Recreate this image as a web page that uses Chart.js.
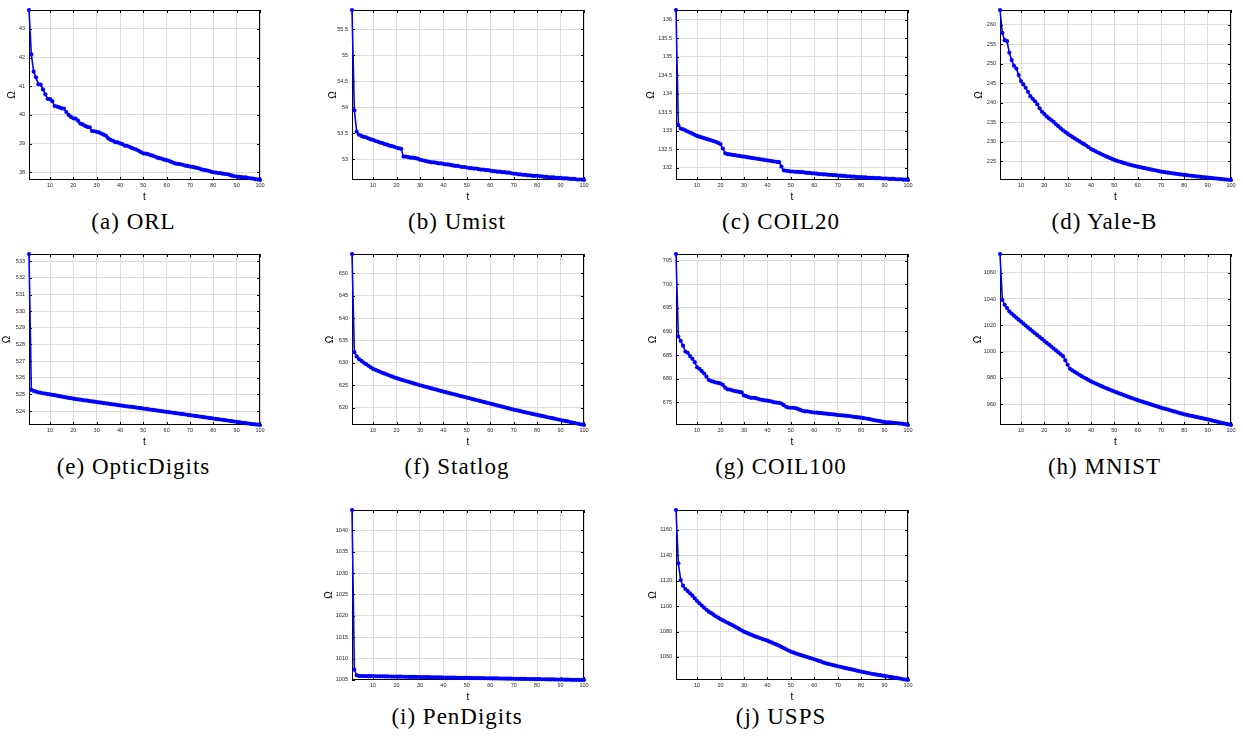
<!DOCTYPE html>
<html>
<head>
<meta charset="utf-8">
<script src="https://cdn.jsdelivr.net/npm/chart.js@4.4.0/dist/chart.umd.min.js"></script>
<style>
    body { margin: 0; background: #fff; }
    #fig { position: relative; width: 1243px; height: 738px; overflow: hidden; }
    #fig canvas { position: absolute; }
    .cap {
        position: absolute;
        width: 300px;
        text-align: center;
        font-family: "Liberation Serif", "DejaVu Serif", serif;
        font-size: 23px;
        letter-spacing: 1px;
        line-height: 26px;
        color: #000;
        white-space: nowrap;
    }
</style>
</head>
<body>
<div id="fig"></div>
<script>
// iteration index t = 1..100
const steps = Array.from({length: 100}, (_, i) => i + 1);
const xTicks = [10, 20, 30, 40, 50, 60, 70, 80, 90, 100];

const orlVals = [
    43.66, 42.11, 41.51, 41.31, 41.07, 41.06, 40.89, 40.72, 40.56, 40.55,
    40.48, 40.31, 40.29, 40.26, 40.23, 40.22, 40.10, 40.00, 39.93, 39.88,
    39.87, 39.80, 39.70, 39.67, 39.62, 39.58, 39.57, 39.44, 39.43, 39.41,
    39.39, 39.35, 39.31, 39.27, 39.18, 39.13, 39.10, 39.05, 39.04, 39.01,
    38.98, 38.93, 38.92, 38.89, 38.85, 38.82, 38.79, 38.75, 38.70, 38.66,
    38.65, 38.63, 38.60, 38.58, 38.55, 38.51, 38.49, 38.47, 38.44, 38.42,
    38.40, 38.36, 38.33, 38.30, 38.29, 38.28, 38.26, 38.23, 38.22, 38.20,
    38.19, 38.17, 38.15, 38.13, 38.10, 38.08, 38.07, 38.05, 38.02, 38.00,
    37.99, 37.97, 37.97, 37.95, 37.94, 37.93, 37.91, 37.88, 37.86, 37.85,
    37.84, 37.83, 37.82, 37.82, 37.80, 37.79, 37.78, 37.76, 37.75, 37.73
];
const orlTicks = [38, 39, 40, 41, 42, 43];

const umistVals = [
    55.87, 53.94, 53.53, 53.47, 53.45, 53.43, 53.42, 53.40, 53.38, 53.37,
    53.35, 53.34, 53.32, 53.31, 53.29, 53.28, 53.26, 53.25, 53.24, 53.22,
    53.21, 53.20, 53.05, 53.05, 53.04, 53.03, 53.03, 53.02, 53.01, 52.99,
    52.98, 52.97, 52.96, 52.95, 52.94, 52.94, 52.93, 52.92, 52.92, 52.91,
    52.90, 52.90, 52.89, 52.88, 52.87, 52.87, 52.86, 52.85, 52.85, 52.84,
    52.83, 52.83, 52.82, 52.82, 52.81, 52.80, 52.80, 52.79, 52.79, 52.78,
    52.77, 52.77, 52.76, 52.76, 52.75, 52.75, 52.74, 52.74, 52.73, 52.72,
    52.72, 52.71, 52.71, 52.70, 52.70, 52.69, 52.69, 52.68, 52.68, 52.68,
    52.67, 52.67, 52.66, 52.66, 52.65, 52.65, 52.65, 52.64, 52.64, 52.64,
    52.63, 52.63, 52.63, 52.62, 52.62, 52.62, 52.61, 52.61, 52.61, 52.60
];
const umistTicks = [53, 53.5, 54, 54.5, 55, 55.5];

const coil20Vals = [
    136.26, 133.15, 133.06, 133.04, 133.01, 132.98, 132.95, 132.92, 132.89, 132.86,
    132.84, 132.82, 132.80, 132.78, 132.76, 132.74, 132.72, 132.70, 132.67, 132.64,
    132.52, 132.39, 132.37, 132.36, 132.35, 132.34, 132.33, 132.32, 132.31, 132.30,
    132.29, 132.28, 132.27, 132.26, 132.25, 132.24, 132.23, 132.22, 132.21, 132.20,
    132.19, 132.18, 132.17, 132.16, 132.15, 132.03, 131.93, 131.92, 131.91, 131.90,
    131.90, 131.89, 131.89, 131.88, 131.88, 131.87, 131.86, 131.86, 131.85, 131.85,
    131.84, 131.83, 131.83, 131.82, 131.82, 131.81, 131.81, 131.80, 131.80, 131.79,
    131.79, 131.78, 131.78, 131.77, 131.77, 131.76, 131.76, 131.75, 131.75, 131.75,
    131.74, 131.74, 131.73, 131.73, 131.73, 131.72, 131.72, 131.72, 131.71, 131.71,
    131.71, 131.70, 131.70, 131.70, 131.69, 131.69, 131.69, 131.68, 131.68, 131.67
];
const coil20Ticks = [132, 132.5, 133, 133.5, 134, 134.5, 135, 135.5, 136];

const yaleVals = [
    263.80, 257.95, 256.07, 255.80, 252.83, 250.95, 249.50, 248.80, 247.10, 245.57,
    244.70, 243.86, 242.83, 241.70, 241.04, 240.40, 239.60, 238.57, 237.70, 237.10,
    236.50, 236.00, 235.58, 235.10, 234.50, 234.00, 233.45, 232.94, 232.50, 232.07,
    231.65, 231.25, 230.85, 230.50, 230.10, 229.75, 229.40, 229.05, 228.60, 228.15,
    227.85, 227.55, 227.25, 226.95, 226.68, 226.40, 226.12, 225.85, 225.60, 225.34,
    225.15, 224.95, 224.76, 224.58, 224.40, 224.23, 224.06, 223.90, 223.76, 223.63,
    223.49, 223.36, 223.23, 223.10, 222.98, 222.86, 222.75, 222.64, 222.50, 222.35,
    222.26, 222.17, 222.08, 221.99, 221.90, 221.82, 221.74, 221.66, 221.58, 221.50,
    221.43, 221.36, 221.29, 221.22, 221.15, 221.08, 221.01, 220.94, 220.87, 220.80,
    220.74, 220.68, 220.62, 220.56, 220.50, 220.44, 220.38, 220.32, 220.26, 220.20
];
const yaleTicks = [225, 230, 235, 240, 245, 250, 255, 260];

const opticVals = [
    533.44, 525.27, 525.21, 525.17, 525.13, 525.10, 525.07, 525.05, 525.02, 525.00,
    524.97, 524.95, 524.92, 524.89, 524.87, 524.84, 524.82, 524.79, 524.77, 524.74,
    524.72, 524.70, 524.68, 524.66, 524.64, 524.62, 524.60, 524.58, 524.56, 524.54,
    524.52, 524.50, 524.48, 524.46, 524.44, 524.42, 524.40, 524.38, 524.36, 524.34,
    524.32, 524.30, 524.28, 524.26, 524.25, 524.23, 524.21, 524.19, 524.17, 524.15,
    524.13, 524.11, 524.09, 524.07, 524.05, 524.03, 524.01, 523.99, 523.97, 523.95,
    523.93, 523.91, 523.89, 523.87, 523.85, 523.83, 523.81, 523.79, 523.77, 523.75,
    523.73, 523.71, 523.69, 523.67, 523.65, 523.63, 523.61, 523.59, 523.57, 523.55,
    523.53, 523.51, 523.49, 523.47, 523.45, 523.43, 523.41, 523.39, 523.37, 523.35,
    523.33, 523.31, 523.29, 523.27, 523.25, 523.23, 523.21, 523.20, 523.18, 523.16
];
const opticTicks = [524, 525, 526, 527, 528, 529, 530, 531, 532, 533];

const statlogVals = [
    654.30, 632.39, 631.42, 630.82, 630.45, 630.05, 629.70, 629.35, 629.00, 628.66,
    628.44, 628.22, 628.00, 627.78, 627.57, 627.37, 627.17, 626.96, 626.76, 626.57,
    626.41, 626.25, 626.09, 625.94, 625.78, 625.63, 625.47, 625.31, 625.16, 625.00,
    624.86, 624.72, 624.57, 624.43, 624.29, 624.15, 624.00, 623.86, 623.72, 623.58,
    623.45, 623.31, 623.18, 623.04, 622.91, 622.78, 622.64, 622.51, 622.37, 622.24,
    622.11, 621.97, 621.84, 621.70, 621.57, 621.44, 621.30, 621.17, 621.03, 620.90,
    620.76, 620.63, 620.49, 620.36, 620.22, 620.09, 619.95, 619.82, 619.68, 619.55,
    619.43, 619.31, 619.20, 619.07, 618.95, 618.84, 618.72, 618.60, 618.48, 618.36,
    618.25, 618.14, 618.03, 617.91, 617.80, 617.69, 617.58, 617.46, 617.35, 617.24,
    617.13, 617.02, 616.91, 616.79, 616.68, 616.57, 616.46, 616.34, 616.23, 616.12
];
const statlogTicks = [620, 625, 630, 635, 640, 645, 650];

const coil100Vals = [
    706.40, 688.93, 688.00, 687.00, 685.75, 685.50, 684.80, 684.20, 683.50, 682.43,
    682.10, 681.60, 681.10, 680.44, 679.73, 679.50, 679.38, 679.20, 679.10, 678.96,
    678.70, 678.10, 677.75, 677.70, 677.55, 677.40, 677.30, 677.20, 677.10, 676.46,
    676.30, 676.10, 675.95, 675.95, 675.90, 675.75, 675.60, 675.50, 675.40, 675.35,
    675.28, 675.14, 675.00, 674.95, 674.90, 674.75, 674.40, 674.05, 673.90, 673.85,
    673.85, 673.76, 673.60, 673.40, 673.20, 673.10, 673.10, 673.00, 672.90, 672.85,
    672.80, 672.75, 672.70, 672.65, 672.60, 672.55, 672.50, 672.45, 672.38, 672.30,
    672.26, 672.22, 672.18, 672.14, 672.10, 672.00, 671.92, 671.85, 671.80, 671.75,
    671.66, 671.58, 671.50, 671.40, 671.30, 671.20, 671.10, 671.00, 670.90, 670.82,
    670.78, 670.74, 670.70, 670.66, 670.62, 670.56, 670.50, 670.42, 670.34, 670.20
];
const coil100Ticks = [675, 680, 685, 690, 695, 700, 705];

const mnistVals = [
    1074.2, 1039.4, 1035.6, 1033.1, 1030.6, 1028.9, 1027.3, 1025.8, 1024.3, 1022.8,
    1021.3, 1019.8, 1018.3, 1016.85, 1015.4, 1013.95, 1012.5, 1011.05, 1009.6, 1008.15,
    1006.7, 1005.25, 1003.8, 1002.35, 1000.9, 999.45, 998.0, 996.5, 993.3, 990.0,
    986.9, 985.7, 984.6, 983.5, 982.4, 981.3, 980.3, 979.3, 978.3, 977.3,
    976.5, 975.7, 974.9, 974.1, 973.3, 972.5, 971.8, 971.1, 970.4, 969.65,
    968.95, 968.25, 967.6, 966.95, 966.3, 965.65, 965.0, 964.35, 963.7, 963.05,
    962.45, 961.9, 961.35, 960.8, 960.2, 959.65, 959.1, 958.5, 957.95, 957.4,
    956.9, 956.4, 955.9, 955.35, 954.85, 954.35, 953.85, 953.3, 952.8, 952.3,
    951.9, 951.5, 951.15, 950.75, 950.35, 950.0, 949.6, 949.25, 948.85, 948.5,
    948.05, 947.6, 947.15, 946.75, 946.3, 945.9, 945.45, 945.05, 944.6, 944.2
];
const mnistTicks = [960, 980, 1000, 1020, 1040, 1060];

const penVals = [
    1044.75, 1007.40, 1006.10, 1005.95, 1005.93, 1005.92, 1005.91, 1005.90, 1005.89, 1005.88,
    1005.87, 1005.86, 1005.85, 1005.84, 1005.83, 1005.82, 1005.81, 1005.80, 1005.79, 1005.78,
    1005.77, 1005.76, 1005.75, 1005.74, 1005.73, 1005.72, 1005.71, 1005.70, 1005.69, 1005.68,
    1005.67, 1005.66, 1005.65, 1005.64, 1005.63, 1005.62, 1005.61, 1005.60, 1005.59, 1005.58,
    1005.57, 1005.56, 1005.55, 1005.54, 1005.53, 1005.52, 1005.51, 1005.50, 1005.49, 1005.48,
    1005.47, 1005.46, 1005.45, 1005.44, 1005.43, 1005.42, 1005.41, 1005.40, 1005.39, 1005.38,
    1005.37, 1005.36, 1005.35, 1005.34, 1005.33, 1005.32, 1005.31, 1005.30, 1005.29, 1005.28,
    1005.27, 1005.26, 1005.25, 1005.24, 1005.23, 1005.22, 1005.21, 1005.20, 1005.19, 1005.19,
    1005.18, 1005.17, 1005.16, 1005.15, 1005.14, 1005.13, 1005.12, 1005.11, 1005.10, 1005.09,
    1005.08, 1005.07, 1005.06, 1005.05, 1005.04, 1005.03, 1005.02, 1005.01, 1005.00, 1004.99
];
const penTicks = [1005, 1010, 1015, 1020, 1025, 1030, 1035, 1040];

const uspsVals = [
    1175.5, 1133.6, 1120.5, 1116.0, 1113.4, 1111.8, 1110.0, 1108.2, 1106.0, 1104.0,
    1102.2, 1100.4, 1098.7, 1097.1, 1095.6, 1094.4, 1093.2, 1092.0, 1090.9, 1089.8,
    1088.8, 1087.8, 1086.9, 1086.0, 1085.1, 1084.0, 1083.0, 1081.9, 1080.9, 1079.9,
    1079.1, 1078.3, 1077.5, 1076.7, 1076.0, 1075.4, 1074.7, 1074.1, 1073.5, 1072.8,
    1072.0, 1071.2, 1070.4, 1069.7, 1068.9, 1067.9, 1067.0, 1066.0, 1065.1, 1064.2,
    1063.6, 1062.9, 1062.3, 1061.6, 1061.0, 1060.4, 1059.9, 1059.3, 1058.8, 1058.2,
    1057.6, 1056.9, 1056.3, 1055.6, 1055.0, 1054.5, 1054.1, 1053.6, 1053.2, 1052.7,
    1052.3, 1051.9, 1051.4, 1051.0, 1050.6, 1050.2, 1049.8, 1049.3, 1048.9, 1048.5,
    1048.1, 1047.7, 1047.4, 1047.0, 1046.6, 1046.3, 1046.0, 1045.7, 1045.4, 1045.1,
    1044.8, 1044.4, 1044.1, 1043.8, 1043.5, 1043.2, 1042.9, 1042.5, 1042.2, 1041.9
];
const uspsTicks = [1060, 1080, 1100, 1120, 1140, 1160];

// x, y, w, h = plot box in page pixels; gap = distance of the Ω label from the box
const panels = [
    {caption: '(a) ORL',         values: orlVals,     ticks: orlTicks,     x: 29,  y: 10,  w: 231, h: 170, gap: 17, capY: 222},
    {caption: '(b) Umist',       values: umistVals,   ticks: umistTicks,   x: 352, y: 10,  w: 232, h: 170, gap: 19, capY: 222},
    {caption: '(c) COIL20',      values: coil20Vals,  ticks: coil20Ticks,  x: 676, y: 10,  w: 232, h: 170, gap: 25, capY: 222},
    {caption: '(d) Yale-B',      values: yaleVals,    ticks: yaleTicks,    x: 1000, y: 10, w: 231, h: 170, gap: 21, capY: 222},
    {caption: '(e) OpticDigits', values: opticVals,   ticks: opticTicks,   x: 29,  y: 254, w: 231, h: 171, gap: 22, capY: 467},
    {caption: '(f) Statlog',     values: statlogVals, ticks: statlogTicks, x: 352, y: 254, w: 232, h: 171, gap: 22, capY: 467},
    {caption: '(g) COIL100',     values: coil100Vals, ticks: coil100Ticks, x: 676, y: 254, w: 232, h: 171, gap: 23, capY: 467},
    {caption: '(h) MNIST',       values: mnistVals,   ticks: mnistTicks,   x: 1000, y: 254, w: 231, h: 171, gap: 22, capY: 467},
    {caption: '(i) PenDigits',   values: penVals,     ticks: penTicks,     x: 352, y: 510, w: 232, h: 170, gap: 23, capY: 717},
    {caption: '(j) USPS',        values: uspsVals,    ticks: uspsTicks,    x: 676, y: 510, w: 232, h: 170, gap: 23, capY: 717}
];

const BLUE = '#0000ff';
const GRID = '#dcdcdc';
const PAD_T = 8, PAD_R = 10, X_H = 23;
const tickFont = {family: 'Liberation Sans', size: 5.5};
const labelFont = {family: 'Liberation Sans', size: 10};

// black box round the plot with short inward ticks on all four sides
const axesBox = {
    id: 'axesBox',
    beforeDatasetsDraw(chart) {
        const {ctx, chartArea: a, scales} = chart;
        const L = 3;
        ctx.save();
        ctx.strokeStyle = '#000';
        ctx.lineWidth = 1;
        ctx.beginPath();
        scales.x.ticks.forEach(t => {
            const px = Math.round(scales.x.getPixelForValue(t.value)) + 0.5;
            ctx.moveTo(px, a.bottom); ctx.lineTo(px, a.bottom - L);
            ctx.moveTo(px, a.top); ctx.lineTo(px, a.top + L);
        });
        scales.y.ticks.forEach(t => {
            const py = Math.round(scales.y.getPixelForValue(t.value)) + 0.5;
            ctx.moveTo(a.left, py); ctx.lineTo(a.left + L, py);
            ctx.moveTo(a.right, py); ctx.lineTo(a.right - L, py);
        });
        ctx.stroke();
        ctx.strokeRect(Math.round(a.left) + 0.5, Math.round(a.top) + 0.5,
            Math.round(a.right - a.left) - 1, Math.round(a.bottom - a.top) - 1);
        ctx.restore();
    }
};

function buildPanel(p) {
    const fig = document.getElementById('fig');
    const yW = p.gap + 6;
    const canvas = document.createElement('canvas');
    canvas.width = yW + p.w + PAD_R;
    canvas.height = PAD_T + p.h + X_H;
    canvas.style.left = (p.x - yW) + 'px';
    canvas.style.top = (p.y - PAD_T) + 'px';
    fig.appendChild(canvas);

    const cap = document.createElement('div');
    cap.className = 'cap';
    cap.textContent = p.caption;
    cap.style.left = (p.x + p.w / 2 - 11 - 150) + 'px';
    cap.style.top = (p.capY - 13) + 'px';
    fig.appendChild(cap);

    new Chart(canvas, {
        type: 'line',
        data: {
            datasets: [{
                data: p.values.map((v, i) => ({x: steps[i], y: v})),
                borderColor: BLUE,
                backgroundColor: BLUE,
                borderWidth: 1.6,
                pointRadius: 2.1,
                pointBorderWidth: 0,
                pointBackgroundColor: BLUE,
                tension: 0,
                clip: false
            }]
        },
        options: {
            responsive: false,
            animation: false,
            devicePixelRatio: 1,
            events: [],
            layout: {padding: {top: PAD_T, right: PAD_R, left: 0, bottom: 0}},
            plugins: {legend: {display: false}, tooltip: {enabled: false}},
            scales: {
                x: {
                    type: 'linear',
                    min: 1,
                    max: 100,
                    afterBuildTicks: s => { s.ticks = xTicks.map(v => ({value: v})); },
                    afterFit: s => { s.height = X_H; },
                    grid: {color: GRID, drawTicks: false},
                    border: {display: false},
                    ticks: {font: tickFont, color: '#262626', padding: 2, maxRotation: 0, autoSkip: false,
                        callback: v => String(v)},
                    title: {display: true, text: 't', font: labelFont, color: '#000', padding: 0}
                },
                y: {
                    min: Math.min(...p.values),
                    max: Math.max(...p.values),
                    afterBuildTicks: s => { s.ticks = p.ticks.map(v => ({value: v})); },
                    afterFit: s => { s.width = yW; },
                    grid: {color: GRID, drawTicks: false},
                    border: {display: false},
                    ticks: {font: tickFont, color: '#262626', padding: 4, autoSkip: false,
                        callback: v => String(v)},
                    title: {display: true, text: 'Ω', font: labelFont, color: '#000', padding: 0}
                }
            }
        },
        plugins: [axesBox]
    });
}

panels.forEach(buildPanel);
</script>
</body>
</html>
